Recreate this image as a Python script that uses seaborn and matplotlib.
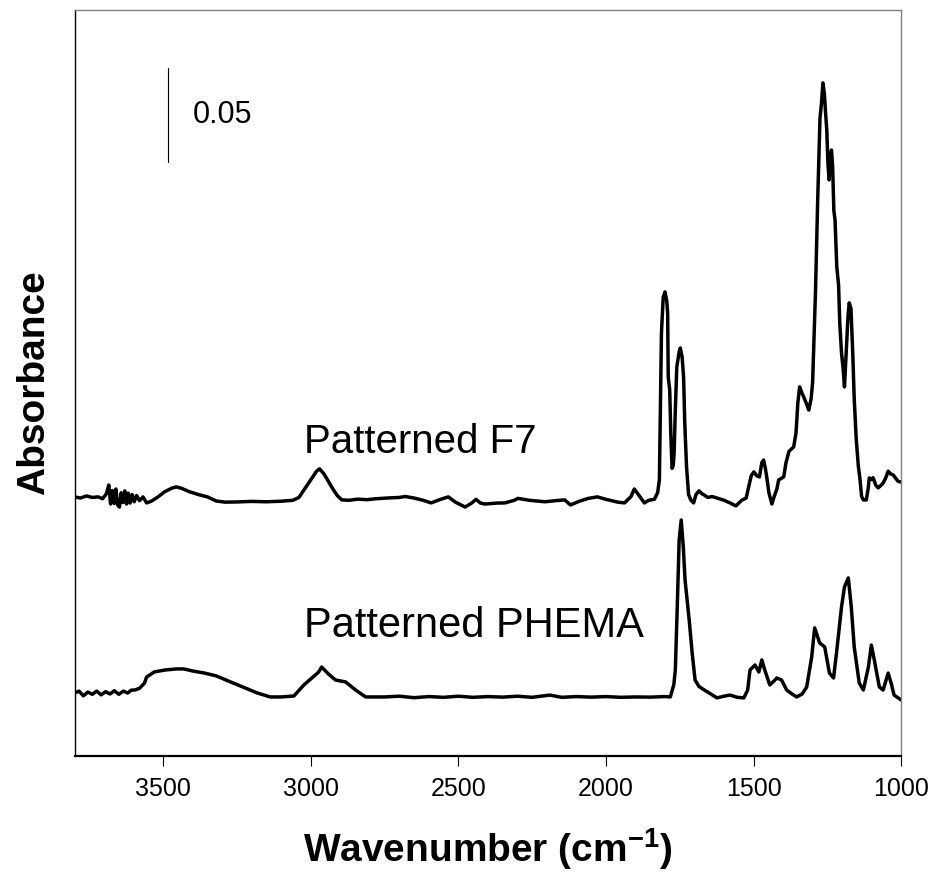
import matplotlib
matplotlib.use("Agg")
import matplotlib.pyplot as plt
import pandas as pd
import seaborn as sns

# FTIR spectra (wavenumber in cm-1, absorbance with vertical offset)
F7_POINTS = [
    (3800, 0.1378), (3780, 0.1372), (3760, 0.1383), (3740, 0.1375), (3720, 0.1378),
    (3705, 0.1368), (3692, 0.1395), (3684, 0.1441), (3678, 0.1340), (3672, 0.1412),
    (3666, 0.1343), (3660, 0.1420), (3654, 0.1335), (3648, 0.1324), (3642, 0.1400),
    (3636, 0.1348), (3630, 0.1410), (3624, 0.1340), (3618, 0.1398), (3612, 0.1345),
    (3605, 0.1390), (3598, 0.1352), (3590, 0.1385), (3580, 0.1358), (3568, 0.1378),
    (3556, 0.1346), (3540, 0.1355), (3520, 0.1375), (3495, 0.1405), (3470, 0.1425),
    (3455, 0.1431), (3440, 0.1425), (3410, 0.1405), (3380, 0.1390), (3350, 0.1378),
    (3320, 0.1356), (3290, 0.1350), (3250, 0.1351), (3200, 0.1354), (3150, 0.1352),
    (3100, 0.1355), (3060, 0.1360), (3040, 0.1375), (3025, 0.1410), (3010, 0.1445),
    (2995, 0.1480), (2980, 0.1515), (2970, 0.1527), (2955, 0.1500), (2940, 0.1460),
    (2925, 0.1420), (2910, 0.1385), (2895, 0.1362), (2870, 0.1360), (2840, 0.1366),
    (2810, 0.1363), (2780, 0.1368), (2740, 0.1372), (2700, 0.1375), (2680, 0.1380),
    (2650, 0.1372), (2620, 0.1360), (2592, 0.1346), (2560, 0.1365), (2534, 0.1378),
    (2510, 0.1350), (2477, 0.1324), (2455, 0.1345), (2440, 0.1365), (2425, 0.1345),
    (2409, 0.1340), (2370, 0.1345), (2342, 0.1346), (2310, 0.1360), (2298, 0.1370),
    (2260, 0.1360), (2207, 0.1352), (2170, 0.1358), (2140, 0.1362), (2120, 0.1335),
    (2090, 0.1355), (2060, 0.1370), (2029, 0.1378), (2000, 0.1365), (1960, 0.1350),
    (1937, 0.1346), (1915, 0.1380), (1904, 0.1420), (1890, 0.1390), (1870, 0.1346),
    (1855, 0.1360), (1836, 0.1365), (1825, 0.1400), (1819, 0.1468), (1816, 0.1803),
    (1812, 0.2250), (1806, 0.2440), (1800, 0.2468), (1794, 0.2420), (1791, 0.2356),
    (1789, 0.2016), (1784, 0.1947), (1780, 0.1700), (1776, 0.1530), (1772, 0.1545),
    (1769, 0.1612), (1765, 0.1840), (1760, 0.2069), (1752, 0.2150), (1748, 0.2170),
    (1742, 0.2122), (1737, 0.2016), (1733, 0.1771), (1727, 0.1537), (1720, 0.1390),
    (1712, 0.1360), (1703, 0.1346), (1695, 0.1390), (1685, 0.1410), (1675, 0.1395),
    (1667, 0.1388), (1655, 0.1375), (1640, 0.1380), (1624, 0.1372), (1600, 0.1360),
    (1580, 0.1346), (1560, 0.1330), (1540, 0.1360), (1525, 0.1372), (1515, 0.1440),
    (1508, 0.1490), (1499, 0.1511), (1489, 0.1490), (1480, 0.1484), (1472, 0.1560),
    (1466, 0.1574), (1460, 0.1530), (1455, 0.1480), (1448, 0.1400), (1438, 0.1340),
    (1430, 0.1380), (1421, 0.1420), (1415, 0.1468), (1398, 0.1484), (1390, 0.1560),
    (1380, 0.1620), (1364, 0.1644), (1356, 0.1720), (1350, 0.1878), (1344, 0.1963),
    (1336, 0.1930), (1330, 0.1910), (1320, 0.1870), (1313, 0.1840), (1305, 0.1900),
    (1300, 0.1984), (1296, 0.2176), (1290, 0.2479), (1283, 0.2941), (1275, 0.3390),
    (1270, 0.3470), (1265, 0.3580), (1260, 0.3520), (1256, 0.3420), (1252, 0.3330),
    (1248, 0.3150), (1244, 0.3064), (1240, 0.3180), (1236, 0.3223), (1232, 0.3130),
    (1228, 0.2900), (1224, 0.2851), (1218, 0.2600), (1212, 0.2505), (1208, 0.2303),
    (1202, 0.2144), (1196, 0.2050), (1192, 0.1963), (1186, 0.2150), (1180, 0.2340),
    (1176, 0.2410), (1170, 0.2380), (1164, 0.2144), (1159, 0.1900), (1152, 0.1681),
    (1145, 0.1540), (1140, 0.1480), (1134, 0.1380), (1128, 0.1362), (1118, 0.1362),
    (1112, 0.1420), (1108, 0.1479), (1100, 0.1470), (1095, 0.1480), (1086, 0.1440),
    (1078, 0.1426), (1068, 0.1440), (1061, 0.1452), (1052, 0.1480), (1044, 0.1515),
    (1036, 0.1500), (1027, 0.1495), (1020, 0.1480), (1010, 0.1460), (1000, 0.1457),
]

PHEMA_POINTS = [
    (3800, 0.0335), (3785, 0.0345), (3770, 0.0320), (3755, 0.0340), (3740, 0.0328),
    (3725, 0.0345), (3710, 0.0325), (3695, 0.0342), (3680, 0.0330), (3665, 0.0347),
    (3650, 0.0328), (3635, 0.0345), (3620, 0.0335), (3608, 0.0350), (3596, 0.0351),
    (3580, 0.0360), (3563, 0.0388), (3556, 0.0420), (3530, 0.0447), (3495, 0.0457),
    (3455, 0.0463), (3430, 0.0463), (3400, 0.0452), (3360, 0.0441), (3320, 0.0426),
    (3272, 0.0394), (3230, 0.0367), (3181, 0.0335), (3137, 0.0314), (3100, 0.0314),
    (3057, 0.0319), (3023, 0.0378), (2996, 0.0415), (2973, 0.0447), (2963, 0.0473),
    (2940, 0.0436), (2916, 0.0404), (2882, 0.0394), (2848, 0.0351), (2814, 0.0314),
    (2750, 0.0314), (2700, 0.0318), (2650, 0.0310), (2600, 0.0316), (2550, 0.0312),
    (2500, 0.0318), (2450, 0.0312), (2400, 0.0316), (2350, 0.0313), (2300, 0.0318),
    (2250, 0.0312), (2190, 0.0324), (2150, 0.0312), (2100, 0.0316), (2050, 0.0313),
    (2000, 0.0316), (1950, 0.0312), (1900, 0.0314), (1850, 0.0313), (1800, 0.0316),
    (1782, 0.0314), (1770, 0.0380), (1765, 0.0457), (1759, 0.0761), (1752, 0.1149),
    (1745, 0.1255), (1738, 0.1112), (1732, 0.0936), (1718, 0.0723), (1708, 0.0548),
    (1698, 0.0404), (1685, 0.0370), (1667, 0.0351), (1645, 0.0330), (1624, 0.0309),
    (1600, 0.0318), (1580, 0.0324), (1555, 0.0312), (1533, 0.0309), (1520, 0.0350),
    (1512, 0.0457), (1495, 0.0484), (1482, 0.0447), (1472, 0.0511), (1462, 0.0457),
    (1445, 0.0378), (1430, 0.0400), (1421, 0.0415), (1405, 0.0404), (1388, 0.0351),
    (1370, 0.0330), (1354, 0.0314), (1335, 0.0330), (1320, 0.0367), (1303, 0.0527),
    (1293, 0.0681), (1276, 0.0601), (1259, 0.0580), (1243, 0.0441), (1229, 0.0415),
    (1219, 0.0548), (1202, 0.0793), (1192, 0.0899), (1179, 0.0947), (1169, 0.0793),
    (1159, 0.0580), (1142, 0.0388), (1128, 0.0351), (1111, 0.0473), (1101, 0.0590),
    (1091, 0.0511), (1074, 0.0367), (1061, 0.0351), (1044, 0.0441), (1034, 0.0388),
    (1024, 0.0324), (1010, 0.0309), (1000, 0.0298),
]

SERIES_LABELS = ["Patterned F7", "Patterned PHEMA"]
LABEL_ANCHORS = [(3023, 0.161), (3023, 0.0633)]   # (wavenumber, absorbance) of text baseline start
LABEL_SIZES = [29, 30]
XTICKS = [3500, 3000, 2500, 2000, 1500, 1000]
SCALE_BAR = (3485, 0.316, 0.05)                   # x, lower end, length
SCALE_LABEL = "0.05"

sns.set_theme(style="white")
plt.rcParams["font.family"] = ["Liberation Sans", "DejaVu Sans"]
plt.rcParams["mathtext.fontset"] = "custom"
plt.rcParams["mathtext.rm"] = "Liberation Sans:bold"
plt.rcParams["mathtext.default"] = "rm"

frames = []
for name, pts in zip(SERIES_LABELS, [F7_POINTS, PHEMA_POINTS]):
    wn, ab = zip(*pts)
    frames.append(pd.DataFrame({"wavenumber": wn, "absorbance": ab, "sample": name}))
spectra = pd.concat(frames, ignore_index=True)

fig = plt.figure(figsize=(9.39, 8.81), dpi=100)
ax = fig.add_axes([0.0794, 0.1419, 0.8803, 0.8473])

sns.lineplot(data=spectra, x="wavenumber", y="absorbance", units="sample",
             estimator=None, color="black", linewidth=2.5, sort=False, ax=ax)

ax.set_xlim(3800, 1000)
ax.set_ylim(0, 0.397)
ax.set_xticks(XTICKS)
ax.set_xticklabels([str(t) for t in XTICKS])
ax.set_yticks([])
ax.tick_params(axis="x", bottom=True, direction="out", length=7.2, width=0.8,
               color="black", labelsize=18, pad=8, labelcolor="black")

for side in ["left", "bottom"]:
    ax.spines[side].set_color("black")
ax.spines["left"].set_linewidth(1.0)
ax.spines["bottom"].set_linewidth(1.6)
for side in ["top", "right"]:
    ax.spines[side].set_color("#808080")
    ax.spines[side].set_linewidth(1.0)

ax.set_xlabel("Wavenumber (cm$^{-1}$)", fontsize=28, fontweight="bold",
              labelpad=18, color="black")
ax.set_ylabel("Absorbance", fontsize=28, fontweight="bold", labelpad=16,
              color="black")

for text, (x, y), size in zip(SERIES_LABELS, LABEL_ANCHORS, LABEL_SIZES):
    ax.text(x, y, text, fontsize=size, ha="left", va="baseline", color="black")

bx, by, blen = SCALE_BAR
ax.plot([bx, bx], [by, by + blen], color="black", linewidth=0.8)
ax.text(bx - 85, by + blen / 2, SCALE_LABEL, fontsize=22, ha="left",
        va="center", color="black")

fig.savefig("out.png", dpi=100, facecolor="white")
